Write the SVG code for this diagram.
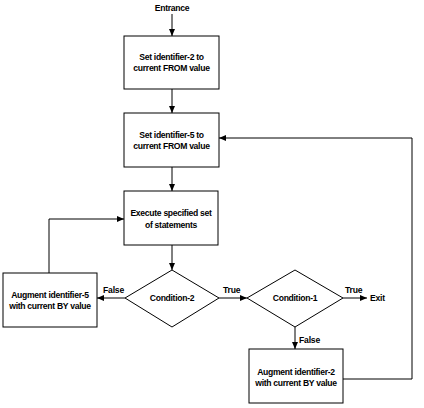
<svg xmlns="http://www.w3.org/2000/svg" width="424" height="408" viewBox="0 0 424 408">
<defs>
<marker id="ah" markerWidth="8" markerHeight="6" refX="7" refY="3" orient="auto" markerUnits="userSpaceOnUse">
<path d="M0,0 L7,3 L0,6 Z" fill="#000"/>
</marker>
<style>
.box{fill:#fff;stroke:#000;stroke-width:1}
.ln{fill:none;stroke:#000;stroke-width:1;marker-end:url(#ah)}
.t{font-family:"Liberation Sans",Arial,sans-serif;font-size:8.6px;font-weight:bold;fill:#000;text-anchor:middle;letter-spacing:-0.3px}
.l{font-family:"Liberation Sans",Arial,sans-serif;font-size:8.6px;font-weight:bold;fill:#000;letter-spacing:-0.2px}
</style>
</defs>
<rect width="424" height="408" fill="#fff"/>
<g id="connectors">
<line class="ln" x1="172" y1="14" x2="172" y2="36"/>
<line class="ln" x1="172" y1="89" x2="172" y2="113"/>
<line class="ln" x1="172" y1="167" x2="172" y2="191"/>
<line class="ln" x1="172" y1="245" x2="172" y2="270"/>
<line class="ln" x1="125" y1="298" x2="97" y2="298"/>
<polyline class="ln" points="49,273 49,219 124,219"/>
<line class="ln" x1="219" y1="298" x2="247" y2="298"/>
<line class="ln" x1="343" y1="298" x2="367" y2="298"/>
<line class="ln" x1="295" y1="327" x2="295" y2="349"/>
<polyline class="ln" points="343,379 412,379 412,138 219,138"/>
<text class="l" x="103" y="293">False</text>
<text class="l" x="223" y="293">True</text>
<text class="l" x="345" y="293">True</text>
<text class="l" x="370" y="301">Exit</text>
<text class="l" x="299" y="343">False</text>
</g>
<g id="entrance"><text class="t" x="172" y="11">Entrance</text></g>
<g id="set2">
<rect class="box" x="124" y="36" width="95" height="53"/>
<text class="t" x="171.5" y="60">Set identifier-2 to</text>
<text class="t" x="171.5" y="71">current FROM value</text>
</g>
<g id="set5">
<rect class="box" x="124" y="113" width="95" height="54"/>
<text class="t" x="171.5" y="138">Set identifier-5 to</text>
<text class="t" x="171.5" y="149">current FROM value</text>
</g>
<g id="execute">
<rect class="box" x="124" y="191" width="94" height="54"/>
<text class="t" x="171" y="216">Execute specified set</text>
<text class="t" x="171" y="228">of statements</text>
</g>
<g id="cond2">
<polygon class="box" points="172,270 219,298 172,327 125,298"/>
<text class="t" x="172" y="301">Condition-2</text>
</g>
<g id="cond1">
<polygon class="box" points="295,270 343,298 295,327 247,298"/>
<text class="t" x="295" y="301">Condition-1</text>
</g>
<g id="aug5">
<rect class="box" x="3" y="273" width="94" height="54"/>
<text class="t" x="50" y="298">Augment identifier-5</text>
<text class="t" x="50" y="309">with current BY value</text>
</g>
<g id="aug2">
<rect class="box" x="249" y="349" width="94" height="54"/>
<text class="t" x="296" y="375">Augment identifier-2</text>
<text class="t" x="296" y="386">with current BY value</text>
</g>
</svg>
